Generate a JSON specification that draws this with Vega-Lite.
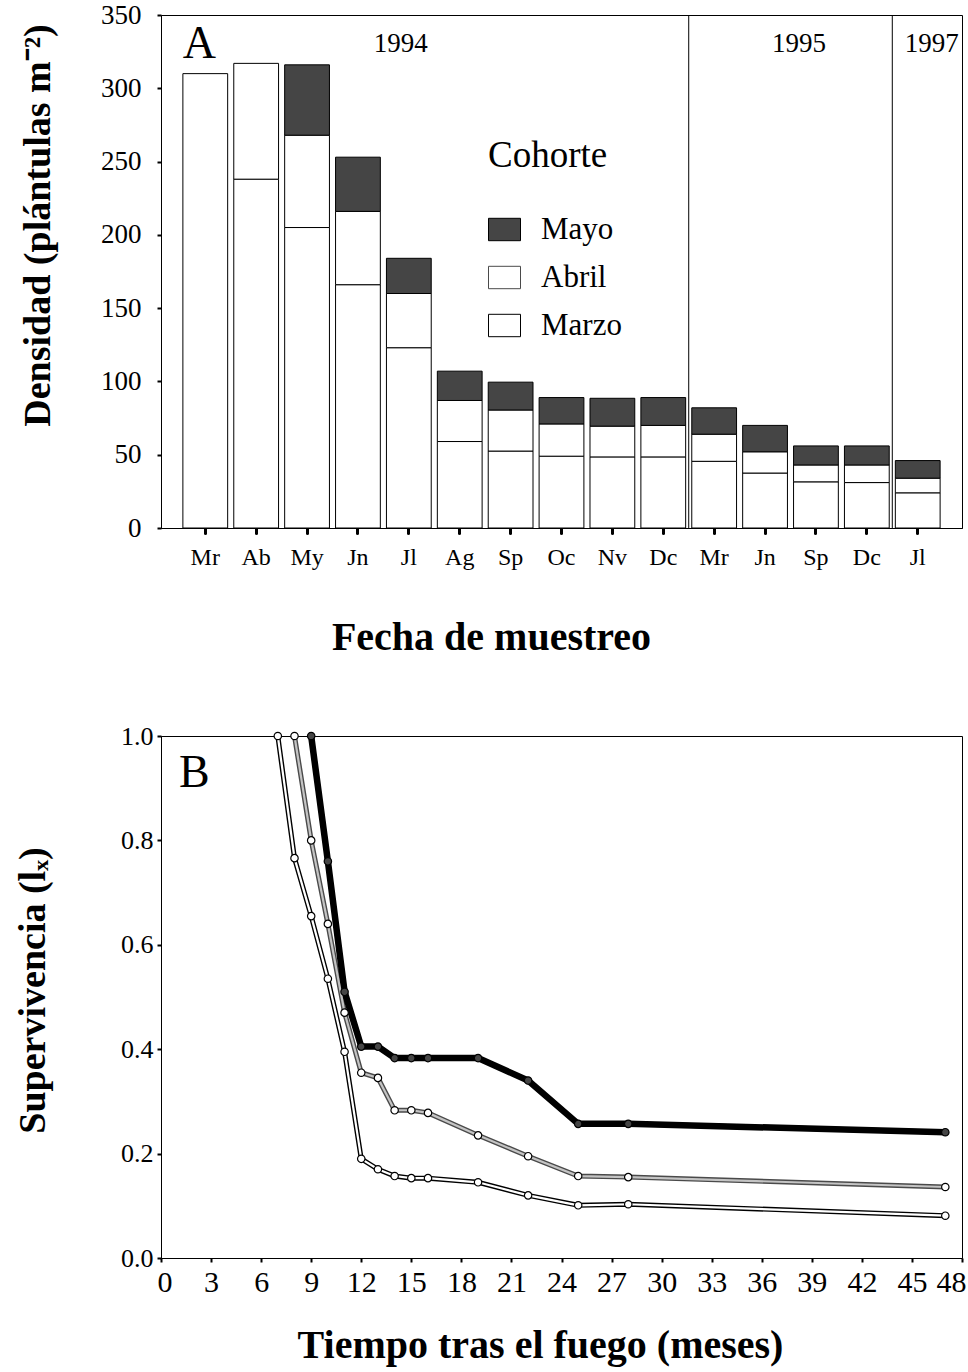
{
  "$schema": "https://vega.github.io/schema/vega-lite/v6.json",
  "background": "white",
  "padding": {"left": 14, "top": 0, "right": 4, "bottom": 4},
  "spacing": 64,
  "config": {
    "font": "Liberation Serif",
    "view": {"stroke": "black", "strokeWidth": 1},
    "axis": {
      "labelFont": "Liberation Serif",
      "titleFont": "Liberation Serif",
      "labelColor": "black",
      "titleColor": "black",
      "domainColor": "black",
      "tickColor": "black",
      "grid": false,
      "labelOverlap": false,
      "titleFontWeight": "bold"
    },
    "legend": {"padding": 0, "labelColor": "black", "titleColor": "black"}
  },
  "vconcat": [
    {
      "width": 801,
      "height": 513,
      "layer": [
        {
          "data": {
            "values": [
              {"fecha": "Mr 1994", "cohorte": "Marzo", "mes_cohorte": 3, "densidad": 310},
              {"fecha": "Ab 1994", "cohorte": "Marzo", "mes_cohorte": 3, "densidad": 238},
              {"fecha": "Ab 1994", "cohorte": "Abril", "mes_cohorte": 4, "densidad": 79},
              {"fecha": "My 1994", "cohorte": "Marzo", "mes_cohorte": 3, "densidad": 205},
              {"fecha": "My 1994", "cohorte": "Abril", "mes_cohorte": 4, "densidad": 63},
              {"fecha": "My 1994", "cohorte": "Mayo", "mes_cohorte": 5, "densidad": 48},
              {"fecha": "Jn 1994", "cohorte": "Marzo", "mes_cohorte": 3, "densidad": 166},
              {"fecha": "Jn 1994", "cohorte": "Abril", "mes_cohorte": 4, "densidad": 50},
              {"fecha": "Jn 1994", "cohorte": "Mayo", "mes_cohorte": 5, "densidad": 37},
              {"fecha": "Jl 1994", "cohorte": "Marzo", "mes_cohorte": 3, "densidad": 123},
              {"fecha": "Jl 1994", "cohorte": "Abril", "mes_cohorte": 4, "densidad": 37},
              {"fecha": "Jl 1994", "cohorte": "Mayo", "mes_cohorte": 5, "densidad": 24},
              {"fecha": "Ag 1994", "cohorte": "Marzo", "mes_cohorte": 3, "densidad": 59},
              {"fecha": "Ag 1994", "cohorte": "Abril", "mes_cohorte": 4, "densidad": 28},
              {"fecha": "Ag 1994", "cohorte": "Mayo", "mes_cohorte": 5, "densidad": 20},
              {"fecha": "Sp 1994", "cohorte": "Marzo", "mes_cohorte": 3, "densidad": 52.5},
              {"fecha": "Sp 1994", "cohorte": "Abril", "mes_cohorte": 4, "densidad": 28},
              {"fecha": "Sp 1994", "cohorte": "Mayo", "mes_cohorte": 5, "densidad": 19},
              {"fecha": "Oc 1994", "cohorte": "Marzo", "mes_cohorte": 3, "densidad": 49},
              {"fecha": "Oc 1994", "cohorte": "Abril", "mes_cohorte": 4, "densidad": 22},
              {"fecha": "Oc 1994", "cohorte": "Mayo", "mes_cohorte": 5, "densidad": 18},
              {"fecha": "Nv 1994", "cohorte": "Marzo", "mes_cohorte": 3, "densidad": 48.5},
              {"fecha": "Nv 1994", "cohorte": "Abril", "mes_cohorte": 4, "densidad": 21},
              {"fecha": "Nv 1994", "cohorte": "Mayo", "mes_cohorte": 5, "densidad": 19},
              {"fecha": "Dc 1994", "cohorte": "Marzo", "mes_cohorte": 3, "densidad": 48.5},
              {"fecha": "Dc 1994", "cohorte": "Abril", "mes_cohorte": 4, "densidad": 21.5},
              {"fecha": "Dc 1994", "cohorte": "Mayo", "mes_cohorte": 5, "densidad": 19},
              {"fecha": "Mr 1995", "cohorte": "Marzo", "mes_cohorte": 3, "densidad": 45.5},
              {"fecha": "Mr 1995", "cohorte": "Abril", "mes_cohorte": 4, "densidad": 18.5},
              {"fecha": "Mr 1995", "cohorte": "Mayo", "mes_cohorte": 5, "densidad": 18},
              {"fecha": "Jn 1995", "cohorte": "Marzo", "mes_cohorte": 3, "densidad": 37.5},
              {"fecha": "Jn 1995", "cohorte": "Abril", "mes_cohorte": 4, "densidad": 14.5},
              {"fecha": "Jn 1995", "cohorte": "Mayo", "mes_cohorte": 5, "densidad": 18},
              {"fecha": "Sp 1995", "cohorte": "Marzo", "mes_cohorte": 3, "densidad": 31.5},
              {"fecha": "Sp 1995", "cohorte": "Abril", "mes_cohorte": 4, "densidad": 11.5},
              {"fecha": "Sp 1995", "cohorte": "Mayo", "mes_cohorte": 5, "densidad": 13},
              {"fecha": "Dc 1995", "cohorte": "Marzo", "mes_cohorte": 3, "densidad": 31},
              {"fecha": "Dc 1995", "cohorte": "Abril", "mes_cohorte": 4, "densidad": 12},
              {"fecha": "Dc 1995", "cohorte": "Mayo", "mes_cohorte": 5, "densidad": 13},
              {"fecha": "Jl 1997", "cohorte": "Marzo", "mes_cohorte": 3, "densidad": 24},
              {"fecha": "Jl 1997", "cohorte": "Abril", "mes_cohorte": 4, "densidad": 10},
              {"fecha": "Jl 1997", "cohorte": "Mayo", "mes_cohorte": 5, "densidad": 12}
            ]
          },
          "mark": {"type": "bar", "stroke": "black", "strokeWidth": 1},
          "encoding": {
            "x": {
              "field": "fecha",
              "type": "nominal",
              "sort": ["Mr 1994", "Ab 1994", "My 1994", "Jn 1994", "Jl 1994", "Ag 1994", "Sp 1994", "Oc 1994", "Nv 1994", "Dc 1994", "Mr 1995", "Jn 1995", "Sp 1995", "Dc 1995", "Jl 1997"],
              "scale": {"paddingInner": 0.12, "paddingOuter": 0.43},
              "axis": {
                "title": "Fecha de muestreo",
                "titleFontSize": 40,
                "titleX": 330,
                "titlePadding": 48,
                "labelExpr": "split(datum.label, ' ')[0]",
                "labelAngle": 0,
                "labelFontSize": 24,
                "labelPadding": 12,
                "tickSize": 5,
                "tickWidth": 3,
                "tickCap": "round"
              }
            },
            "y": {
              "field": "densidad",
              "type": "quantitative",
              "stack": "zero",
              "scale": {"domain": [0, 350]},
              "axis": {
                "title": "Densidad (plántulas m⁻²)",
                "titleFontSize": 38,
                "titleY": 210,
                "titlePadding": 43,
                "values": [0, 50, 100, 150, 200, 250, 300, 350],
                "labelFontSize": 27,
                "labelPadding": 16,
                "tickSize": 4,
                "tickWidth": 2
              }
            },
            "fill": {
              "field": "cohorte",
              "type": "nominal",
              "scale": {"domain": ["Mayo", "Abril", "Marzo"], "range": ["#454545", "white", "white"]},
              "legend": {
                "title": "Cohorte",
                "orient": "none",
                "legendX": 327,
                "legendY": 123,
                "titleFont": "Liberation Serif",
                "titleFontSize": 37,
                "titleFontWeight": "normal",
                "titlePadding": 38,
                "labelFont": "Liberation Serif",
                "labelFontSize": 31,
                "labelOffset": 20,
                "rowPadding": 16,
                "symbolType": "M-1,-0.7H1V0.7H-1Z",
                "symbolSize": 1024,
                "symbolStrokeColor": "black",
                "symbolStrokeWidth": 1,
                "symbolOpacity": 1
              }
            },
            "order": {"field": "mes_cohorte", "type": "quantitative", "sort": "ascending"}
          }
        },
        {
          "data": {"values": [{"fecha": "Mr 1995"}, {"fecha": "Jl 1997"}]},
          "mark": {"type": "rule", "color": "black", "strokeWidth": 1},
          "encoding": {
            "x": {
              "field": "fecha",
              "type": "nominal",
              "bandPosition": -0.068,
              "sort": ["Mr 1994", "Ab 1994", "My 1994", "Jn 1994", "Jl 1994", "Ag 1994", "Sp 1994", "Oc 1994", "Nv 1994", "Dc 1994", "Mr 1995", "Jn 1995", "Sp 1995", "Dc 1995", "Jl 1997"]
            }
          }
        },
        {
          "data": {"values": [{"fecha": "Jl 1994", "anio": "1994"}]},
          "mark": {"type": "text", "fontSize": 27, "font": "Liberation Serif", "dx": -8, "baseline": "middle", "color": "black"},
          "encoding": {
            "x": {"field": "fecha", "type": "nominal", "sort": ["Mr 1994", "Ab 1994", "My 1994", "Jn 1994", "Jl 1994", "Ag 1994", "Sp 1994", "Oc 1994", "Nv 1994", "Dc 1994", "Mr 1995", "Jn 1995", "Sp 1995", "Dc 1995", "Jl 1997"]},
            "y": {"datum": 330},
            "text": {"field": "anio"}
          }
        },
        {
          "data": {"values": [{"fecha": "Sp 1995", "anio": "1995"}]},
          "mark": {"type": "text", "fontSize": 27, "font": "Liberation Serif", "dx": -17, "baseline": "middle", "color": "black"},
          "encoding": {
            "x": {"field": "fecha", "type": "nominal", "sort": ["Mr 1994", "Ab 1994", "My 1994", "Jn 1994", "Jl 1994", "Ag 1994", "Sp 1994", "Oc 1994", "Nv 1994", "Dc 1994", "Mr 1995", "Jn 1995", "Sp 1995", "Dc 1995", "Jl 1997"]},
            "y": {"datum": 330},
            "text": {"field": "anio"}
          }
        },
        {
          "data": {"values": [{"fecha": "Jl 1997", "anio": "1997"}]},
          "mark": {"type": "text", "fontSize": 27, "font": "Liberation Serif", "dx": 14, "baseline": "middle", "color": "black"},
          "encoding": {
            "x": {"field": "fecha", "type": "nominal", "sort": ["Mr 1994", "Ab 1994", "My 1994", "Jn 1994", "Jl 1994", "Ag 1994", "Sp 1994", "Oc 1994", "Nv 1994", "Dc 1994", "Mr 1995", "Jn 1995", "Sp 1995", "Dc 1995", "Jl 1997"]},
            "y": {"datum": 330},
            "text": {"field": "anio"}
          }
        },
        {
          "data": {"values": [{"fecha": "Mr 1994", "panel": "A"}]},
          "mark": {"type": "text", "fontSize": 46, "font": "Liberation Serif", "dx": -6, "baseline": "middle", "color": "black"},
          "encoding": {
            "x": {"field": "fecha", "type": "nominal", "sort": ["Mr 1994", "Ab 1994", "My 1994", "Jn 1994", "Jl 1994", "Ag 1994", "Sp 1994", "Oc 1994", "Nv 1994", "Dc 1994", "Mr 1995", "Jn 1995", "Sp 1995", "Dc 1995", "Jl 1997"]},
            "y": {"datum": 330},
            "text": {"field": "panel"}
          }
        }
      ]
    },
    {
      "width": 801,
      "height": 522,
      "layer": [
        {
          "data": {"name": "supervivencia"},
          "mark": {"type": "line", "strokeWidth": 5},
          "encoding": {
            "x": {
              "field": "meses",
              "type": "quantitative",
              "scale": {"domain": [0, 48], "nice": false},
              "axis": {
                "title": "Tiempo tras el fuego (meses)",
                "titleFontSize": 40,
                "titleX": 379,
                "titlePadding": 28,
                "values": [0, 3, 6, 9, 12, 15, 18, 21, 24, 27, 30, 33, 36, 39, 42, 45, 48],
                "labelFontSize": 30,
                "labelPadding": 5,
                "labelFlush": true,
                "labelFlushOffset": 4,
                "tickSize": 4,
                "tickWidth": 2
              }
            },
            "y": {
              "field": "lx",
              "type": "quantitative",
              "scale": {"domain": [0, 1], "nice": false},
              "axis": {
                "title": "Supervivencia (lₓ)",
                "titleFontSize": 38,
                "titleY": 254,
                "titlePadding": 68,
                "values": [0, 0.2, 0.4, 0.6, 0.8, 1],
                "format": ".1f",
                "labelFontSize": 26,
                "labelPadding": 4,
                "tickSize": 4,
                "tickWidth": 2
              }
            },
            "stroke": {
              "field": "cohorte",
              "type": "nominal",
              "scale": {"domain": ["Mayo", "Abril", "Marzo"], "range": ["black", "#4a4a4a", "black"]},
              "legend": null
            }
          }
        },
        {
          "data": {"name": "supervivencia"},
          "transform": [{"filter": "datum.cohorte == 'Mayo'"}],
          "mark": {"type": "line", "color": "black", "strokeWidth": 6.5},
          "encoding": {
            "x": {"field": "meses", "type": "quantitative"},
            "y": {"field": "lx", "type": "quantitative"}
          }
        },
        {
          "data": {"name": "supervivencia"},
          "mark": {"type": "line", "strokeWidth": 2.2},
          "encoding": {
            "x": {"field": "meses", "type": "quantitative"},
            "y": {"field": "lx", "type": "quantitative"},
            "color": {
              "field": "cohorte",
              "type": "nominal",
              "scale": {"domain": ["Mayo", "Abril", "Marzo"], "range": ["black", "#c4c4c4", "white"]},
              "legend": null
            }
          }
        },
        {
          "data": {"name": "supervivencia"},
          "mark": {"type": "point", "shape": "circle", "filled": true, "size": 55, "stroke": "black", "strokeWidth": 1.2, "opacity": 1},
          "encoding": {
            "x": {"field": "meses", "type": "quantitative"},
            "y": {"field": "lx", "type": "quantitative"},
            "fill": {
              "field": "cohorte",
              "type": "nominal",
              "scale": {"domain": ["Mayo", "Abril", "Marzo"], "range": ["black", "#b0b0b0", "white"]},
              "legend": {
                "title": "Cohorte",
                "orient": "none",
                "legendX": 530,
                "legendY": 115,
                "titleFont": "Liberation Serif",
                "titleFontSize": 37,
                "titleFontWeight": "normal",
                "titlePadding": 28,
                "labelFont": "Liberation Serif",
                "labelFontSize": 32,
                "labelOffset": 21,
                "rowPadding": 7,
                "symbolType": "M-1,-0.17H1V0.17H-1Z",
                "symbolSize": 1936,
                "symbolStrokeColor": "black",
                "symbolStrokeWidth": 1.2,
                "symbolOpacity": 1
              }
            }
          }
        },
        {
          "data": {"values": [{"meses": 2, "lx": 0.93, "panel": "B"}]},
          "mark": {"type": "text", "fontSize": 46, "font": "Liberation Serif", "baseline": "middle", "color": "black"},
          "encoding": {
            "x": {"field": "meses", "type": "quantitative"},
            "y": {"field": "lx", "type": "quantitative"},
            "text": {"field": "panel"}
          }
        }
      ]
    }
  ],
  "datasets": {
    "supervivencia": [
      {"meses": 7, "cohorte": "Marzo", "lx": 1.0},
      {"meses": 8, "cohorte": "Marzo", "lx": 0.766},
      {"meses": 9, "cohorte": "Marzo", "lx": 0.655},
      {"meses": 10, "cohorte": "Marzo", "lx": 0.535},
      {"meses": 11, "cohorte": "Marzo", "lx": 0.395},
      {"meses": 12, "cohorte": "Marzo", "lx": 0.19},
      {"meses": 13, "cohorte": "Marzo", "lx": 0.17},
      {"meses": 14, "cohorte": "Marzo", "lx": 0.157},
      {"meses": 15, "cohorte": "Marzo", "lx": 0.153},
      {"meses": 16, "cohorte": "Marzo", "lx": 0.153},
      {"meses": 19, "cohorte": "Marzo", "lx": 0.145},
      {"meses": 22, "cohorte": "Marzo", "lx": 0.12},
      {"meses": 25, "cohorte": "Marzo", "lx": 0.101},
      {"meses": 28, "cohorte": "Marzo", "lx": 0.103},
      {"meses": 47, "cohorte": "Marzo", "lx": 0.081},
      {"meses": 8, "cohorte": "Abril", "lx": 1.0},
      {"meses": 9, "cohorte": "Abril", "lx": 0.8},
      {"meses": 10, "cohorte": "Abril", "lx": 0.64},
      {"meses": 11, "cohorte": "Abril", "lx": 0.47},
      {"meses": 12, "cohorte": "Abril", "lx": 0.355},
      {"meses": 13, "cohorte": "Abril", "lx": 0.345},
      {"meses": 14, "cohorte": "Abril", "lx": 0.283},
      {"meses": 15, "cohorte": "Abril", "lx": 0.283},
      {"meses": 16, "cohorte": "Abril", "lx": 0.278},
      {"meses": 19, "cohorte": "Abril", "lx": 0.235},
      {"meses": 22, "cohorte": "Abril", "lx": 0.195},
      {"meses": 25, "cohorte": "Abril", "lx": 0.157},
      {"meses": 28, "cohorte": "Abril", "lx": 0.155},
      {"meses": 47, "cohorte": "Abril", "lx": 0.136},
      {"meses": 9, "cohorte": "Mayo", "lx": 1.0},
      {"meses": 10, "cohorte": "Mayo", "lx": 0.76},
      {"meses": 11, "cohorte": "Mayo", "lx": 0.51},
      {"meses": 12, "cohorte": "Mayo", "lx": 0.405},
      {"meses": 13, "cohorte": "Mayo", "lx": 0.405},
      {"meses": 14, "cohorte": "Mayo", "lx": 0.383},
      {"meses": 15, "cohorte": "Mayo", "lx": 0.383},
      {"meses": 16, "cohorte": "Mayo", "lx": 0.383},
      {"meses": 19, "cohorte": "Mayo", "lx": 0.383},
      {"meses": 22, "cohorte": "Mayo", "lx": 0.34},
      {"meses": 25, "cohorte": "Mayo", "lx": 0.257},
      {"meses": 28, "cohorte": "Mayo", "lx": 0.257},
      {"meses": 47, "cohorte": "Mayo", "lx": 0.241}
    ]
  }
}
